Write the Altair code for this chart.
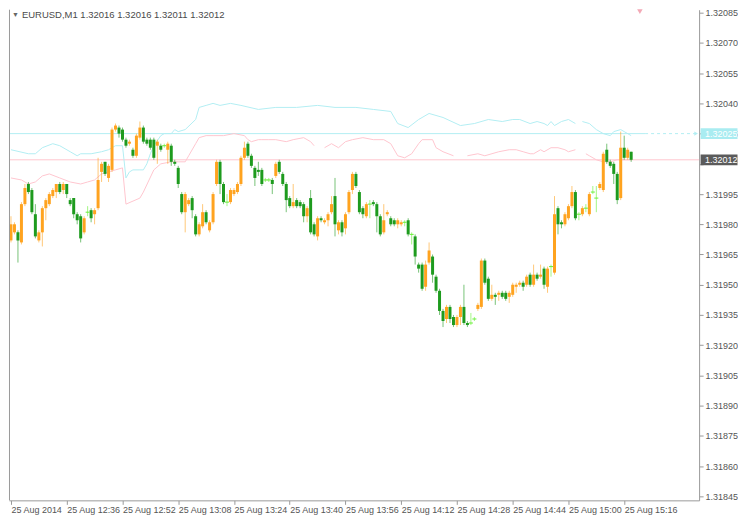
import altair as alt
import pandas as pd

# ---------------- data ----------------
START = "12:20"  # first candle, 25 Aug 2014, one candle per minute
kind = ["O","O","G","O","O","G","G","G","O","O","O","O","O","O","G","O","G","G","G","G",
        "G","O","L","G","O","O","O","G","O","O","O","G","G","G","O","G","O","O","G","G",
        "G","G","O","G","L","O","G","G","G","G","O","O","G","G","O","O","G","O","O","O",
        "G","G","L","O","O","O","O","O","G","G","G","G","G","L","L","G","O","G","G","G",
        "G","O","G","G","G","O","G","G","O","G","O","O","O","G","O","G","O","O","O","G",
        "G","G","O","L","G","G","G","O","O","G","G","O","O","L","G","L","G","G","G","O",
        "O","G","G","G","G","O","G","G","O","O","G","G","L","L","O","O","G","G","O","G",
        "O","G","G","O","O","O","O","G","O","G","O","G","O","G","O","L","O","G","G","O",
        "O","O","G","L","O","L","O","L","L","O","O","G","G","G","G","O","G","O","G"]
open_ = [1.31972,1.31976,1.31976,1.31971,1.31990,1.32000,1.31997,1.31985,1.31972,1.31976,
         1.31988,1.31990,1.31994,1.31996,1.32000,1.31997,1.32000,1.31992,1.31993,1.31985,
         1.31984,1.31976,1.31986,1.31987,1.31985,1.31988,1.32006,1.32011,1.32003,1.32007,
         1.32027,1.32028,1.32027,1.32022,1.32020,1.32017,1.32014,1.32023,1.32028,1.32022,
         1.32022,1.32022,1.32019,1.32019,1.32019,1.32017,1.32019,1.32011,1.32008,1.31995,
         1.31986,1.31990,1.31993,1.31984,1.31975,1.31979,1.31986,1.31977,1.31981,1.32000,
         1.32011,1.32000,1.31991,1.31991,1.31995,1.31996,1.32000,1.32013,1.32020,1.32014,
         1.32008,1.32007,1.32007,1.32002,1.32002,1.32002,1.32004,1.32011,1.32005,1.32000,
         1.31993,1.31989,1.31992,1.31991,1.31990,1.31984,1.31993,1.31980,1.31974,1.31983,
         1.31981,1.31982,1.31986,1.31994,1.31977,1.31981,1.31978,1.31986,1.31997,1.32005,
         1.31996,1.31988,1.31984,1.31990,1.31991,1.31990,1.31984,1.31976,1.31985,1.31983,
         1.31982,1.31980,1.31980,1.31981,1.31982,1.31975,1.31974,1.31960,1.31960,1.31949,
         1.31961,1.31964,1.31954,1.31947,1.31937,1.31933,1.31939,1.31934,1.31930,1.31934,
         1.31939,1.31931,1.31931,1.31933,1.31938,1.31939,1.31962,1.31953,1.31943,1.31945,
         1.31945,1.31946,1.31946,1.31944,1.31945,1.31949,1.31950,1.31951,1.31950,1.31955,
         1.31950,1.31955,1.31954,1.31958,1.31949,1.31959,1.31956,1.31988,1.31981,1.31980,
         1.31983,1.31989,1.31996,1.31985,1.31985,1.31988,1.31985,1.31996,1.31993,1.31998,
         1.31997,1.32017,1.32011,1.32010,1.32005,1.31993,1.32018,1.32013,1.32016]
high = [1.31984,1.31981,1.31977,1.31991,1.32000,1.32001,1.31998,1.31990,1.31977,1.31989,
        1.31993,1.31996,1.31998,1.32000,1.32001,1.32001,1.32000,1.31993,1.31993,1.31986,
        1.31985,1.31984,1.31989,1.31988,1.31988,1.32013,1.32011,1.32011,1.32010,1.32028,
        1.32030,1.32029,1.32028,1.32023,1.32022,1.32018,1.32025,1.32031,1.32029,1.32023,
        1.32023,1.32023,1.32022,1.32020,1.32020,1.32021,1.32020,1.32012,1.32009,1.31996,
        1.31996,1.31993,1.31994,1.31985,1.31981,1.31990,1.31987,1.31982,1.31996,1.32012,
        1.32012,1.32001,1.31995,1.31998,1.31998,1.32001,1.32014,1.32021,1.32021,1.32015,
        1.32009,1.32011,1.32008,1.32003,1.32003,1.32003,1.32011,1.32012,1.32006,1.32001,
        1.31994,1.32000,1.31993,1.31992,1.31991,1.31989,1.31997,1.31981,1.31984,1.31984,
        1.31983,1.31986,1.31994,1.32003,1.31982,1.31982,1.31986,1.31997,1.32006,1.32006,
        1.31997,1.31989,1.31991,1.31992,1.31992,1.31991,1.31985,1.31990,1.31987,1.31984,
        1.31983,1.31983,1.31982,1.31982,1.31983,1.31976,1.31975,1.31961,1.31961,1.31962,
        1.31971,1.31965,1.31955,1.31948,1.31938,1.31940,1.31940,1.31935,1.31935,1.31940,
        1.31950,1.31932,1.31936,1.31934,1.31941,1.31963,1.31963,1.31954,1.31950,1.31946,
        1.31947,1.31947,1.31947,1.31947,1.31951,1.31951,1.31952,1.31952,1.31955,1.31956,
        1.31960,1.31956,1.31960,1.31959,1.31959,1.31960,1.31994,1.31989,1.31982,1.31986,
        1.31990,1.31999,1.31997,1.31986,1.31989,1.31990,1.31996,1.31999,1.31999,1.32001,
        1.32016,1.32020,1.32012,1.32011,1.32006,1.32026,1.32024,1.32018,1.32016]
low = [1.31971,1.31975,1.31961,1.31970,1.31989,1.31995,1.31985,1.31973,1.31971,1.31969,
       1.31982,1.31989,1.31993,1.31993,1.31995,1.31995,1.31993,1.31989,1.31983,1.31980,
       1.31971,1.31975,1.31984,1.31981,1.31980,1.31987,1.32001,1.32004,1.32001,1.32006,
       1.32026,1.32023,1.32021,1.32018,1.32019,1.32013,1.32013,1.32022,1.32020,1.32019,
       1.32017,1.32012,1.32010,1.32016,1.32018,1.32010,1.32009,1.32009,1.31998,1.31985,
       1.31976,1.31989,1.31983,1.31974,1.31974,1.31978,1.31980,1.31976,1.31980,1.31999,
       1.31995,1.31990,1.31989,1.31990,1.31994,1.31995,1.31999,1.32012,1.32013,1.32008,
       1.31999,1.32004,1.31999,1.32001,1.32001,1.31995,1.32003,1.32005,1.31999,1.31986,
       1.31988,1.31988,1.31988,1.31988,1.31981,1.31981,1.31975,1.31974,1.31972,1.31981,
       1.31980,1.31979,1.31985,1.31974,1.31975,1.31974,1.31975,1.31985,1.31995,1.31998,
       1.31985,1.31983,1.31983,1.31983,1.31989,1.31976,1.31974,1.31975,1.31984,1.31979,
       1.31979,1.31978,1.31979,1.31979,1.31974,1.31970,1.31960,1.31956,1.31947,1.31947,
       1.31960,1.31951,1.31946,1.31935,1.31929,1.31931,1.31931,1.31929,1.31929,1.31930,
       1.31930,1.31929,1.31930,1.31932,1.31937,1.31938,1.31950,1.31942,1.31942,1.31940,
       1.31942,1.31943,1.31942,1.31941,1.31944,1.31946,1.31949,1.31947,1.31949,1.31949,
       1.31949,1.31952,1.31953,1.31948,1.31946,1.31954,1.31955,1.31975,1.31978,1.31979,
       1.31982,1.31988,1.31982,1.31982,1.31984,1.31986,1.31984,1.31995,1.31986,1.31997,
       1.31996,1.32010,1.32008,1.32000,1.31990,1.31992,1.32012,1.32012,1.32011]
close = [1.31980,1.31980,1.31972,1.31990,1.31998,1.31996,1.31986,1.31974,1.31976,1.31988,
         1.31992,1.31995,1.31997,1.32000,1.31996,1.32000,1.31995,1.31990,1.31985,1.31982,
         1.31973,1.31983,1.31986,1.31983,1.31987,1.32002,1.32010,1.32005,1.32009,1.32027,
         1.32029,1.32025,1.32022,1.32019,1.32021,1.32014,1.32024,1.32028,1.32021,1.32020,
         1.32018,1.32013,1.32021,1.32017,1.32019,1.32020,1.32011,1.32010,1.32000,1.31986,
         1.31995,1.31992,1.31987,1.31975,1.31980,1.31986,1.31981,1.31981,1.31995,1.32011,
         1.32000,1.31991,1.31991,1.31997,1.31997,1.32000,1.32013,1.32018,1.32014,1.32009,
         1.32003,1.32006,1.32000,1.32002,1.32002,1.32000,1.32010,1.32006,1.32000,1.31992,
         1.31989,1.31991,1.31989,1.31989,1.31984,1.31988,1.31976,1.31975,1.31983,1.31982,
         1.31982,1.31985,1.31990,1.31980,1.31981,1.31976,1.31985,1.31996,1.32005,1.31999,
         1.31986,1.31985,1.31990,1.31990,1.31990,1.31984,1.31975,1.31982,1.31986,1.31980,
         1.31980,1.31982,1.31981,1.31981,1.31975,1.31975,1.31964,1.31958,1.31948,1.31960,
         1.31967,1.31955,1.31947,1.31937,1.31932,1.31939,1.31933,1.31930,1.31934,1.31939,
         1.31931,1.31930,1.31931,1.31933,1.31940,1.31962,1.31951,1.31943,1.31945,1.31944,
         1.31946,1.31944,1.31943,1.31946,1.31950,1.31950,1.31951,1.31949,1.31954,1.31950,
         1.31955,1.31953,1.31955,1.31950,1.31958,1.31959,1.31985,1.31980,1.31980,1.31985,
         1.31989,1.31996,1.31983,1.31985,1.31988,1.31988,1.31995,1.31996,1.31993,1.32000,
         1.32015,1.32011,1.32009,1.32005,1.31992,1.32018,1.32013,1.32017,1.32012]

# indicator lines (minute from start, price); segments split where the line breaks
upper_a_min = [0,5,7,9,12,14,17,19,20,23,26,28,30,32,33,34,35,37,38,39,40,41,43,44,46,47,48,50,53,54,56,58,60,63,66,71,
               76,82,88,93,99,104,109,111,114,117,120,124,129,133,137,141,144,146,149,151,153,154,155,156,158,160,162]
upper_a_val = [1.32017,1.32015,1.32015,1.32018,1.32020,1.32019,1.32016,1.32014,1.32015,1.32015,1.32016,1.32017,1.32019,
               1.32019,1.32003,1.32006,1.32007,1.32007,1.32007,1.32010,1.32015,1.32019,1.32024,1.32025,1.32025,1.32027,
               1.32026,1.32027,1.32032,1.32038,1.32039,1.32040,1.32039,1.32040,1.32039,1.32037,1.32038,1.32038,1.32039,
               1.32038,1.32038,1.32037,1.32036,1.32030,1.32028,1.32032,1.32035,1.32033,1.32029,1.32030,1.32032,1.32031,
               1.32032,1.32032,1.32030,1.32031,1.32030,1.32029,1.32031,1.32029,1.32031,1.32032,1.32030]
upper_b_min = [164,166,168,170,172,173,175,176,178]
upper_b_val = [1.32031,1.32030,1.32027,1.32025,1.32024,1.32026,1.32027,1.32026,1.32024]
lower_a_min = [0,3,5,7,9,11,14,17,20,22,24,26,28,30,32,33,37,38,41,43,46,48,50,51,53,54,56,58,61,64,67,68,69,71,72,74,76,79,81,84,86,87]
lower_a_val = [1.32003,1.32002,1.32000,1.32001,1.32004,1.32005,1.32003,1.32001,1.32000,1.32001,1.32002,1.32005,1.32006,
               1.32007,1.32008,1.31990,1.31993,1.31996,1.32007,1.32010,1.32011,1.32011,1.32011,1.32014,1.32020,1.32023,
               1.32024,1.32024,1.32024,1.32025,1.32024,1.32022,1.32021,1.32022,1.32022,1.32022,1.32022,1.32021,1.32022,
               1.32023,1.32021,1.32019]
lower_b_min = [90,92,94,96,98,101,104,107,109,111,113,115,117,118,121,122,124,127]
lower_b_val = [1.32018,1.32020,1.32018,1.32021,1.32022,1.32023,1.32022,1.32022,1.32020,1.32014,1.32013,1.32015,1.32020,
               1.32022,1.32022,1.32018,1.32016,1.32014]
lower_c_min = [131,134,136,140,143,145,147,149,150,152,153,155,157,159,160,162]
lower_c_val = [1.32014,1.32015,1.32014,1.32016,1.32017,1.32017,1.32016,1.32015,1.32015,1.32017,1.32016,1.32018,1.32018,
               1.32017,1.32016,1.32017]
lower_d_min = [165,166,168,170,172,174,176,178]
lower_d_val = [1.32015,1.32014,1.32012,1.32011,1.32011,1.32012,1.32012,1.32012]

ask_level = 1.32025
bid_level = 1.32012
ask_solid_end = 182
title_text = "EURUSD,M1  1.32016 1.32016 1.32011 1.32012"

tick_minutes = [0, 16, 32, 48, 64, 80, 96, 112, 128, 144, 160, 176]
tick_labels = ["25 Aug 2014", "25 Aug 12:36", "25 Aug 12:52", "25 Aug 13:08", "25 Aug 13:24", "25 Aug 13:40",
               "25 Aug 13:56", "25 Aug 14:12", "25 Aug 14:28", "25 Aug 14:44", "25 Aug 15:00", "25 Aug 15:16"]
price_ticks = [1.31845, 1.31860, 1.31875, 1.31890, 1.31905, 1.31920, 1.31935, 1.31950, 1.31965,
               1.31980, 1.31995, 1.32010, 1.32025, 1.32040, 1.32055, 1.32070, 1.32085]

# ---------------- tables ----------------
kind_name = {"O": "bull", "G": "bear", "L": "doji"}
candles = pd.DataFrame({
    "m": list(range(len(open_))),
    "kind": [kind_name[k] for k in kind],
    "open": open_, "high": high, "low": low, "close": close,
})

upper = pd.concat([
    pd.DataFrame({"m": upper_a_min, "v": upper_a_val, "seg": "a"}),
    pd.DataFrame({"m": upper_b_min, "v": upper_b_val, "seg": "b"}),
])
lower = pd.concat([
    pd.DataFrame({"m": lower_a_min, "v": lower_a_val, "seg": "a"}),
    pd.DataFrame({"m": lower_b_min, "v": lower_b_val, "seg": "b"}),
    pd.DataFrame({"m": lower_c_min, "v": lower_c_val, "seg": "c"}),
    pd.DataFrame({"m": lower_d_min, "v": lower_d_val, "seg": "d"}),
])

W, H = 692, 492
XDOM = [-0.57, 197.5]
YDOM = [1.31843, 1.320865]
FONT = "Liberation Sans"
AX = "#9a9a9a"
BULL, BEAR, DOJI = "#FFA31F", "#1E9B1E", "#66F033"
CYAN, PINK = "#b3eef3", "#ffc6cf"

xs = alt.Scale(domain=XDOM, nice=False, zero=False, padding=0)
ys = alt.Scale(domain=YDOM, nice=False, zero=False, padding=0)
cs = alt.Scale(domain=["bull", "bear", "doji"], range=[BULL, BEAR, DOJI])

label_expr = ("[" + ",".join("'%s'" % t for t in tick_labels) + "][indexof(["
              + ",".join(str(t) for t in tick_minutes) + "], datum.value)]")
# the bid price tag sits over the 1.32010 label, as on the terminal
y_label_expr = "abs(datum.value - %s) < 0.00003 ? '' : format(datum.value, '.5f')" % bid_level

x_axis = alt.Axis(values=tick_minutes, labelExpr=label_expr, grid=False, title=None,
                  tickSize=4, tickColor=AX, domainColor=AX, labelAlign="left", labelBaseline="top",
                  labelPadding=1, labelFont=FONT, labelFontSize=9, labelColor="#555555", labelFlush=False,
                  labelOverlap=False)
y_axis = alt.Axis(orient="right", values=price_ticks, labelExpr=y_label_expr, grid=False, title=None,
                  tickSize=4, tickColor=AX, domainColor=AX, labelPadding=2, labelFont=FONT,
                  labelFontSize=9, labelColor="#555555", labelOverlap=False, labelFlush=False)

X = alt.X("m:Q", scale=xs, axis=x_axis)
def Y(field):
    return alt.Y(field, scale=ys, axis=y_axis)

base = alt.Chart(candles)

wicks = base.mark_rule(strokeWidth=1, opacity=0.6).encode(
    x=X, y=Y("low:Q"), y2="high:Q",
    color=alt.Color("kind:N", scale=cs, legend=None),
)
bodies = base.mark_bar(size=3).encode(
    x=X, y=Y("open:Q"), y2="close:Q",
    color=alt.Color("kind:N", scale=cs, legend=None),
)
doji_marks = base.transform_filter("datum.kind == 'doji'").mark_rule(
    strokeWidth=1, xOffset=-2, x2Offset=2, color=DOJI).encode(x=X, x2="m:Q", y=Y("close:Q"))

upper_line = alt.Chart(upper).mark_line(strokeWidth=1, color=CYAN).encode(
    x=X, y=Y("v:Q"), detail="seg:N")
lower_line = alt.Chart(lower).mark_line(strokeWidth=1, color=PINK).encode(
    x=X, y=Y("v:Q"), detail="seg:N")

ask_solid = alt.Chart().mark_rule(color=CYAN, strokeWidth=1).encode(
    x=alt.datum(XDOM[0], scale=xs, axis=x_axis), x2=alt.datum(ask_solid_end),
    y=alt.datum(ask_level, scale=ys, axis=y_axis))
ask_dash = alt.Chart().mark_rule(color=CYAN, strokeWidth=1, strokeDash=[3, 3]).encode(
    x=alt.datum(ask_solid_end, scale=xs, axis=x_axis), x2=alt.datum(XDOM[1]),
    y=alt.datum(ask_level, scale=ys, axis=y_axis))
ask_arrow = alt.Chart().mark_point(shape="triangle-right", filled=True, size=18, color=CYAN, opacity=1).encode(
    x=alt.value(W - 3), y=alt.datum(ask_level, scale=ys, axis=y_axis))
bid_rule = alt.Chart().mark_rule(color=PINK, strokeWidth=1).encode(
    x=alt.value(0), x2=alt.value(W), y=alt.datum(bid_level, scale=ys, axis=y_axis))

TAG = "M-1,-0.29L1,-0.29L1,0.29L-1,0.29Z"
ask_tag = alt.Chart().mark_point(shape=TAG, filled=True, size=1369, color="#a9ecf1", opacity=1).encode(
    x=alt.value(W + 20), y=alt.datum(ask_level, scale=ys, axis=y_axis))
ask_txt = alt.Chart().mark_text(align="left", baseline="middle", font=FONT, fontSize=9, color="#ffffff").encode(
    x=alt.value(W + 6), y=alt.datum(ask_level, scale=ys, axis=y_axis), text=alt.value("%.5f" % ask_level))
bid_tag = alt.Chart().mark_point(shape=TAG, filled=True, size=1369, color="#5b5b5b", opacity=1).encode(
    x=alt.value(W + 20), y=alt.datum(bid_level, scale=ys, axis=y_axis))
bid_txt = alt.Chart().mark_text(align="left", baseline="middle", font=FONT, fontSize=9, color="#ffffff").encode(
    x=alt.value(W + 6), y=alt.datum(bid_level, scale=ys, axis=y_axis), text=alt.value("%.5f" % bid_level))

left_edge = alt.Chart().mark_rule(color=AX, strokeWidth=1).encode(
    x=alt.value(0.5), y=alt.value(0), y2=alt.value(H))
title_arrow = alt.Chart().mark_text(text="▼", fontSize=7, color="#666666", baseline="top", align="left").encode(
    x=alt.value(3), y=alt.value(1))
title = alt.Chart().mark_text(text=title_text, font=FONT, fontSize=9.5, color="#4a4a4a",
                              baseline="top", align="left").encode(x=alt.value(13), y=alt.value(0))
top_marker = alt.Chart().mark_point(shape="triangle-down", filled=True, size=30, color="#f3a9b6", opacity=1).encode(
    x=alt.datum(180.5, scale=xs, axis=x_axis), y=alt.value(2))

chart = alt.layer(
    bid_rule, ask_solid, ask_dash, upper_line, lower_line, wicks, bodies, doji_marks, ask_arrow,
    ask_tag, ask_txt, bid_tag, bid_txt, left_edge, title_arrow, title, top_marker,
).resolve_scale(color="independent").properties(
    width=W, height=H, padding=0, background="white").configure_view(stroke=None)

chart.save("out.html", embed_options={"renderer": "svg", "actions": False})
